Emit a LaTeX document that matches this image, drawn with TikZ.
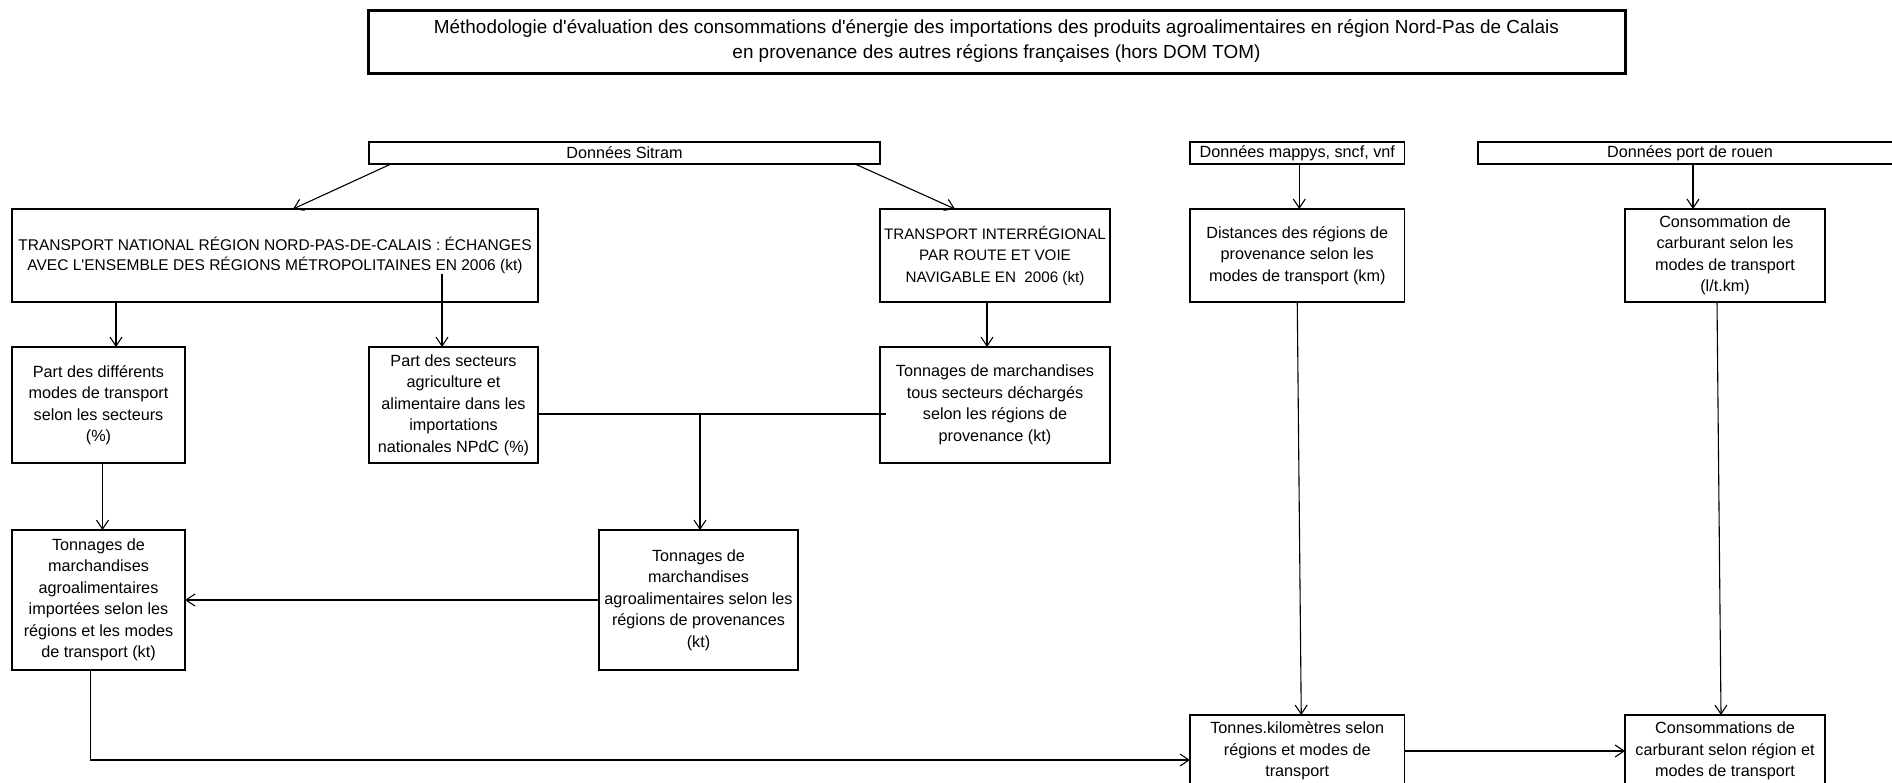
\documentclass[tikz,border=0pt]{standalone}
\usepackage{fontspec}
\setmainfont{Liberation Sans}[Ligatures=TeXOff]
\usetikzlibrary{arrows.meta}
\begin{document}
\begin{tikzpicture}[x=1pt,y=-1pt,
  box/.style={draw, line width=1.3pt, rectangle, inner sep=0pt, outer sep=0pt, align=center,
    font=\fontsize{16.2}{21.5}\selectfont},
  arr/.style={line width=1.1pt, -{Straight Barb[length=9pt,width=12pt,line width=1.1pt]}},
  link/.style={line width=1.1pt}]
\clip (0,0) rectangle (1892,782);
\fill[white] (0,0) rectangle (1892,782);

% title
\node[box, line width=3pt, minimum width=1257pt, minimum height=63pt,
  font=\fontsize{18.9}{25}\selectfont] (title) at (996.5,41.5)
  {Méthodologie d'évaluation des consommations d'énergie des importations des produits agroalimentaires en région Nord-Pas de Calais\\en provenance des autres régions françaises (hors DOM TOM)};

% sources
\node[box, minimum width=511pt, minimum height=22pt] (sitram) at (624.5,153) {Données Sitram};
\node[box, minimum width=214.5pt, minimum height=22pt] (mappy) at (1297.25,153) {Données mappys, sncf, vnf};
\node[box, minimum width=424pt, minimum height=22pt] (port) at (1690,153) {Données port de rouen};

% row 1
\node[box, minimum width=526pt, minimum height=93pt, font=\fontsize{15.5}{20}\selectfont] (A) at (275,255.5)
  {TRANSPORT NATIONAL RÉGION NORD-PAS-DE-CALAIS : ÉCHANGES\\AVEC L'ENSEMBLE DES RÉGIONS MÉTROPOLITAINES EN 2006 (kt)};
\node[box, minimum width=230pt, minimum height=93pt, font=\fontsize{15.2}{21.5}\selectfont] (B) at (995,255.5)
  {TRANSPORT INTERRÉGIONAL\\PAR ROUTE ET VOIE\\NAVIGABLE EN\ \ 2006 (kt)};
\node[box, minimum width=214.5pt, minimum height=93pt] (C) at (1297.25,255.5)
  {Distances des régions de\\provenance selon les\\modes de transport (km)};
\node[box, minimum width=200pt, minimum height=93pt] (D) at (1725,255.5)
  {Consommation de\\carburant selon les\\modes de transport\\(l/t.km)};

% row 2
\node[box, minimum width=173pt, minimum height=116pt] (E) at (98.5,405)
  {Part des différents\\modes de transport\\selon les secteurs\\(\%)};
\node[box, minimum width=169pt, minimum height=116pt] (F) at (453.5,405)
  {Part des secteurs\\agriculture et\\alimentaire dans les\\importations\\nationales NPdC (\%)};
\node[box, minimum width=230pt, minimum height=116pt] (G) at (995,405)
  {Tonnages de marchandises\\tous secteurs déchargés\\selon les régions de\\provenance (kt)};

% row 3
\node[box, minimum width=173pt, minimum height=140pt] (I) at (98.5,600)
  {Tonnages de\\marchandises\\agroalimentaires\\importées selon les\\régions et les modes\\de transport (kt)};
\node[box, minimum width=199pt, minimum height=140pt] (H) at (698.5,600)
  {Tonnages de\\marchandises\\agroalimentaires selon les\\régions de provenances\\(kt)};

% row 4
\node[box, minimum width=214.5pt, minimum height=72pt] (J) at (1297.25,751)
  {Tonnes.kilomètres selon\\régions et modes de\\transport};
\node[box, minimum width=200pt, minimum height=72pt] (K) at (1725,751)
  {Consommations de\\carburant selon région et\\modes de transport};

% connectors
\draw[arr] ([xshift=-233.5pt]sitram.south) -- ([xshift=18pt]A.north);
\draw[arr] ([xshift=230.5pt]sitram.south) -- ([xshift=-40pt]B.north);
\draw[arr] ([xshift=2pt]mappy.south) -- ([xshift=2pt]C.north);
\draw[arr] ([xshift=3pt]port.south) -- ([xshift=-32pt]D.north);

\draw[arr] ([xshift=-159pt]A.south) -- ([xshift=17.5pt]E.north);
\draw[arr] ([xshift=167pt,yshift=-18pt]A.center) -- ([xshift=-11.5pt]F.north);
\draw[arr] ([xshift=-8pt]B.south) -- ([xshift=-8pt]G.north);

\draw[arr] ([xshift=4pt]E.south) -- ([xshift=4pt]I.north);
\coordinate (fg) at ([yshift=-9pt]F.east);
\draw[link] (fg) -- ([xshift=6pt,yshift=-9pt]G.west);
\coordinate (hn) at ([xshift=1.5pt]H.north);
\draw[arr] (hn |- fg) -- (hn);
\draw[arr] (H.west) -- (I.east);

\draw[arr] (C.south) -- ([xshift=4pt]J.north);
\draw[arr] ([xshift=-8pt]D.south) -- ([xshift=-4pt]K.north);
\draw[arr] ([xshift=-8pt]I.south) |- ([yshift=-9pt]J.west);
\draw[arr] (J.east) -- (K.west);
\end{tikzpicture}
\end{document}
